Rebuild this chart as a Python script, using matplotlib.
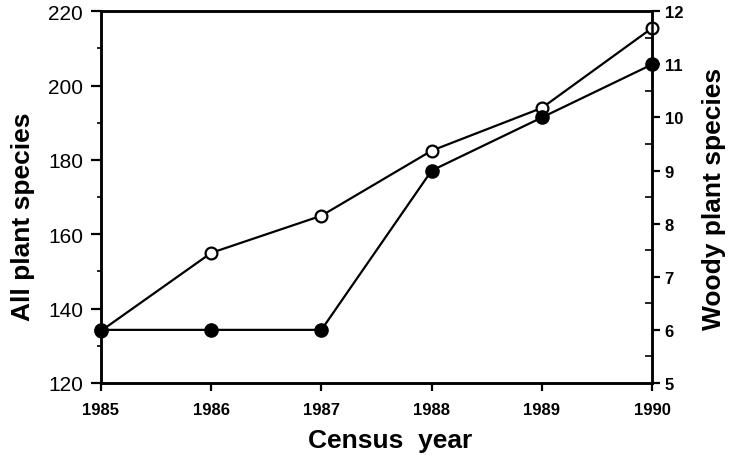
import matplotlib.pyplot as plt
from matplotlib.ticker import MultipleLocator

years = [1985, 1986, 1987, 1988, 1989, 1990]
all_species = [134, 155, 165, 182.5, 194, 215.5]
woody_species = [6, 6, 6, 9, 10, 11]

plt.rcParams['font.family'] = ['Liberation Sans', 'DejaVu Sans']

fig = plt.figure(figsize=(7.29, 4.56), dpi=100)
ax = fig.add_axes([0.1385, 0.158, 0.756, 0.815])
ax2 = ax.twinx()

ax.plot(years, all_species, color='black', lw=1.6, marker='o', ms=8.5,
        mfc='white', mec='black', mew=1.6, zorder=3, clip_on=False)
ax2.plot(years, woody_species, color='black', lw=1.6, marker='o', ms=9.5,
         mfc='black', mec='black', zorder=4, clip_on=False)

ax.set_xlim(1985, 1990)
ax.set_ylim(120, 220)
ax2.set_ylim(5, 12)

ax.set_xticks(years)
ax.set_xticklabels([str(y) for y in years], fontsize=12, fontweight='bold')
ax.yaxis.set_major_locator(MultipleLocator(20))
ax.yaxis.set_minor_locator(MultipleLocator(10))
ax2.yaxis.set_major_locator(MultipleLocator(1))
ax2.yaxis.set_minor_locator(MultipleLocator(0.5))

ax.tick_params(axis='y', which='major', direction='out', length=7, width=1.6, labelsize=15, pad=6)
ax.tick_params(axis='y', which='minor', direction='out', length=3, width=1.2)
ax.tick_params(axis='x', which='major', direction='out', length=6, width=1.6, pad=8)
ax2.tick_params(axis='y', which='major', direction='out', length=6, width=1.6, labelsize=12, pad=3)
ax2.tick_params(axis='y', which='minor', direction='in', length=5, width=1.2)
for t in ax2.get_yticklabels():
    t.set_fontweight('bold')

for a in (ax, ax2):
    for s in a.spines.values():
        s.set_linewidth(1.8)

fig.text(23 / 729, 1 - 217 / 456, 'All plant species', rotation=90, fontsize=19,
         fontweight='bold', ha='center', va='center')
fig.text(714 / 729, 1 - 199 / 456, 'Woody plant species', rotation=90, fontsize=19,
         fontweight='bold', ha='center', va='center')
fig.text(390 / 729, 1 - 441 / 456, 'Census  year', fontsize=19,
         fontweight='bold', ha='center', va='center')

fig.savefig('out.png', dpi=100)
